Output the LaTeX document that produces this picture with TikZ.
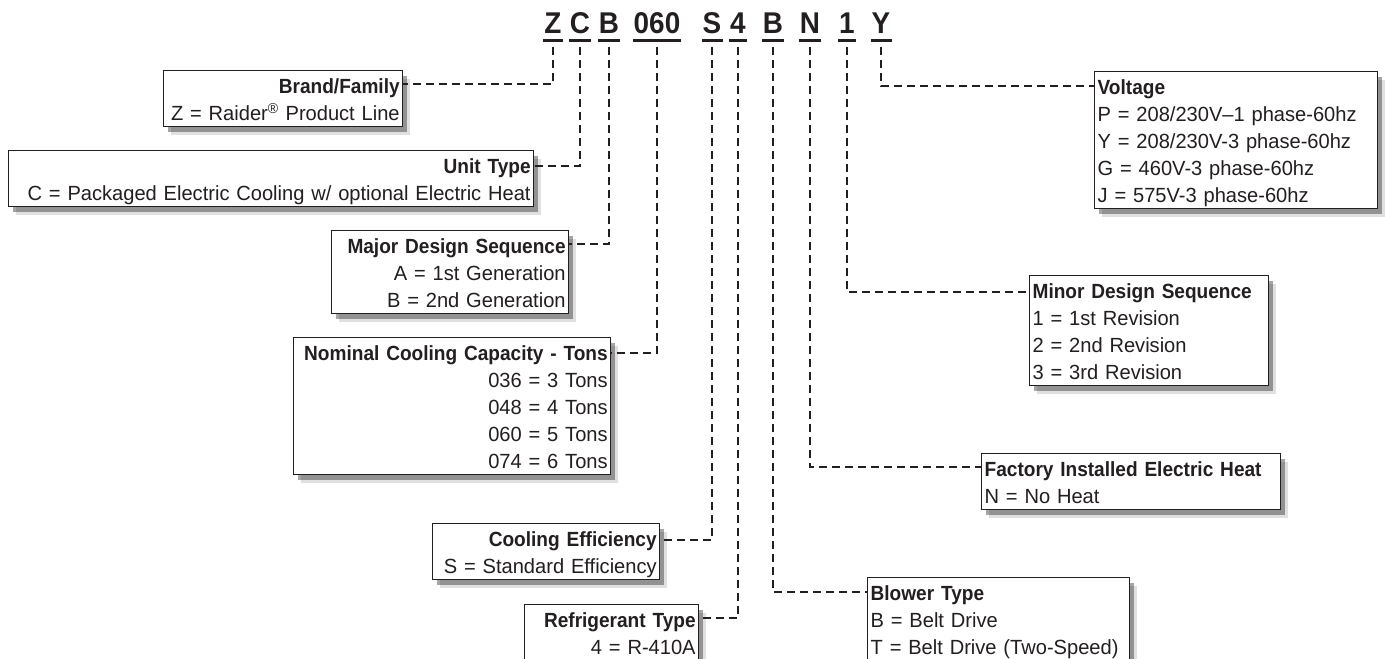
\documentclass[tikz,border=0pt]{standalone}
\usepackage{fontspec}
\setmainfont{Liberation Sans}[UprightFeatures={FakeStretch=0.98},BoldFeatures={FakeStretch=0.93}]
\usetikzlibrary{shadows}
\definecolor{ink}{HTML}{231F20}
\newcommand{\rowstrut}{\rule[-5pt]{0pt}{27pt}}
\tikzset{
  box/.style={draw=ink, fill=white, line width=1.3pt, anchor=north west,
    inner xsep=3pt, inner ysep=1pt, text=ink,
    font=\fontsize{20.5}{27}\selectfont,
    general shadow={shadow xshift=7pt, shadow yshift=-8pt, fill=black, opacity=.12},
    drop shadow={shadow xshift=4pt, shadow yshift=-5pt, fill=black, opacity=.35}},
  boxl/.style={box, align=left},
  boxr/.style={box, align=right},
  code/.style={anchor=base, inner xsep=1pt, inner ysep=0pt, text=ink,
    font=\fontsize{30}{36}\selectfont\bfseries},
  uline/.style={draw=ink, line width=3pt},
  lead/.style={draw=ink, line width=2pt, dash pattern=on 8pt off 5pt}
}
\begin{document}
\begin{tikzpicture}[x=1pt,y=-1pt]
\useasboundingbox (0,0) rectangle (1385,659);
\clip (0,0) rectangle (1385,659);
\node[code] (cZ) at (553,33) {Z};
\node[code] (cC) at (580,33) {C};
\node[code] (cB) at (609,33) {B};
\node[code] (c060) at (657,33) {060};
\node[code] (cS) at (712,33) {S};
\node[code] (c4) at (738,33) {4};
\node[code] (cBT) at (773,33) {B};
\node[code] (cN) at (810,33) {N};
\node[code] (c1) at (847,33) {1};
\node[code] (cY) at (881,33) {Y};
\foreach \c in {cZ,cC,cB,c060,cS,c4,cBT,cN,c1,cY}
  \draw[uline] ([yshift=-7pt]\c.base west) -- ([yshift=-7pt]\c.base east);
% left column
\node[boxr, text width=233pt] (brand) at (163,70)
  {\rowstrut\textbf{Brand/Family}\\\rowstrut Z = Raider\textsuperscript{\textregistered} Product Line};
\node[boxr, text width=519pt] (unit) at (8,150)
  {\rowstrut\textbf{Unit Type}\\\rowstrut C = Packaged Electric Cooling w/ optional Electric Heat};
\node[boxr, text width=231pt] (major) at (331,230)
  {\rowstrut\textbf{Major Design Sequence}\\\rowstrut A = 1st Generation\\\rowstrut B = 2nd Generation};
\node[boxr, text width=311pt] (tons) at (293,337)
  {\rowstrut\textbf{Nominal Cooling Capacity - Tons}\\\rowstrut 036 = 3 Tons\\\rowstrut 048 = 4 Tons\\\rowstrut 060 = 5 Tons\\\rowstrut 074 = 6 Tons};
\node[boxr, text width=221pt] (eff) at (432,523)
  {\rowstrut\textbf{Cooling Efficiency}\\\rowstrut S = Standard Efficiency};
\node[boxr, text width=168pt] (refrig) at (524,604)
  {\rowstrut\textbf{Refrigerant Type}\\\rowstrut 4 = R-410A};
% right column
\node[boxl, text width=277pt] (volt) at (1094,71)
  {\rowstrut\textbf{Voltage}\\\rowstrut P = 208/230V--1 phase-60hz\\\rowstrut Y = 208/230V-3 phase-60hz\\\rowstrut G = 460V-3 phase-60hz\\\rowstrut J = 575V-3 phase-60hz};
\node[boxl, text width=233pt] (minor) at (1029,275)
  {\rowstrut\textbf{Minor Design Sequence}\\\rowstrut 1 = 1st Revision\\\rowstrut 2 = 2nd Revision\\\rowstrut 3 = 3rd Revision};
\node[boxl, text width=293pt] (heat) at (981,453)
  {\rowstrut\textbf{Factory Installed Electric Heat}\\\rowstrut N = No Heat};
\node[boxl, text width=256pt] (blower) at (867,577)
  {\rowstrut\textbf{Blower Type}\\\rowstrut B = Belt Drive\\\rowstrut T = Belt Drive (Two-Speed)};
% leaders
\draw[lead] ([yshift=-14pt]cZ.base) |- ([yshift=-14pt]brand.north east);
\draw[lead] ([yshift=-14pt]cC.base) |- ([yshift=-16pt]unit.north east);
\draw[lead] ([yshift=-14pt]cB.base) |- ([yshift=-14pt]major.north east);
\draw[lead] ([yshift=-14pt]c060.base) |- ([yshift=-16pt]tons.north east);
\draw[lead] ([yshift=-14pt]cS.base) |- ([yshift=-17pt]eff.north east);
\draw[lead] ([yshift=-14pt]c4.base) |- ([yshift=-14pt]refrig.north east);
\draw[lead] ([yshift=-14pt]cBT.base) |- ([yshift=-15pt]blower.north west);
\draw[lead] ([yshift=-14pt]cN.base) |- ([yshift=-14pt]heat.north west);
\draw[lead] ([yshift=-14pt]c1.base) |- ([yshift=-17pt]minor.north west);
\draw[lead] ([yshift=-14pt]cY.base) |- ([yshift=-15pt]volt.north west);
\end{tikzpicture}
\end{document}
